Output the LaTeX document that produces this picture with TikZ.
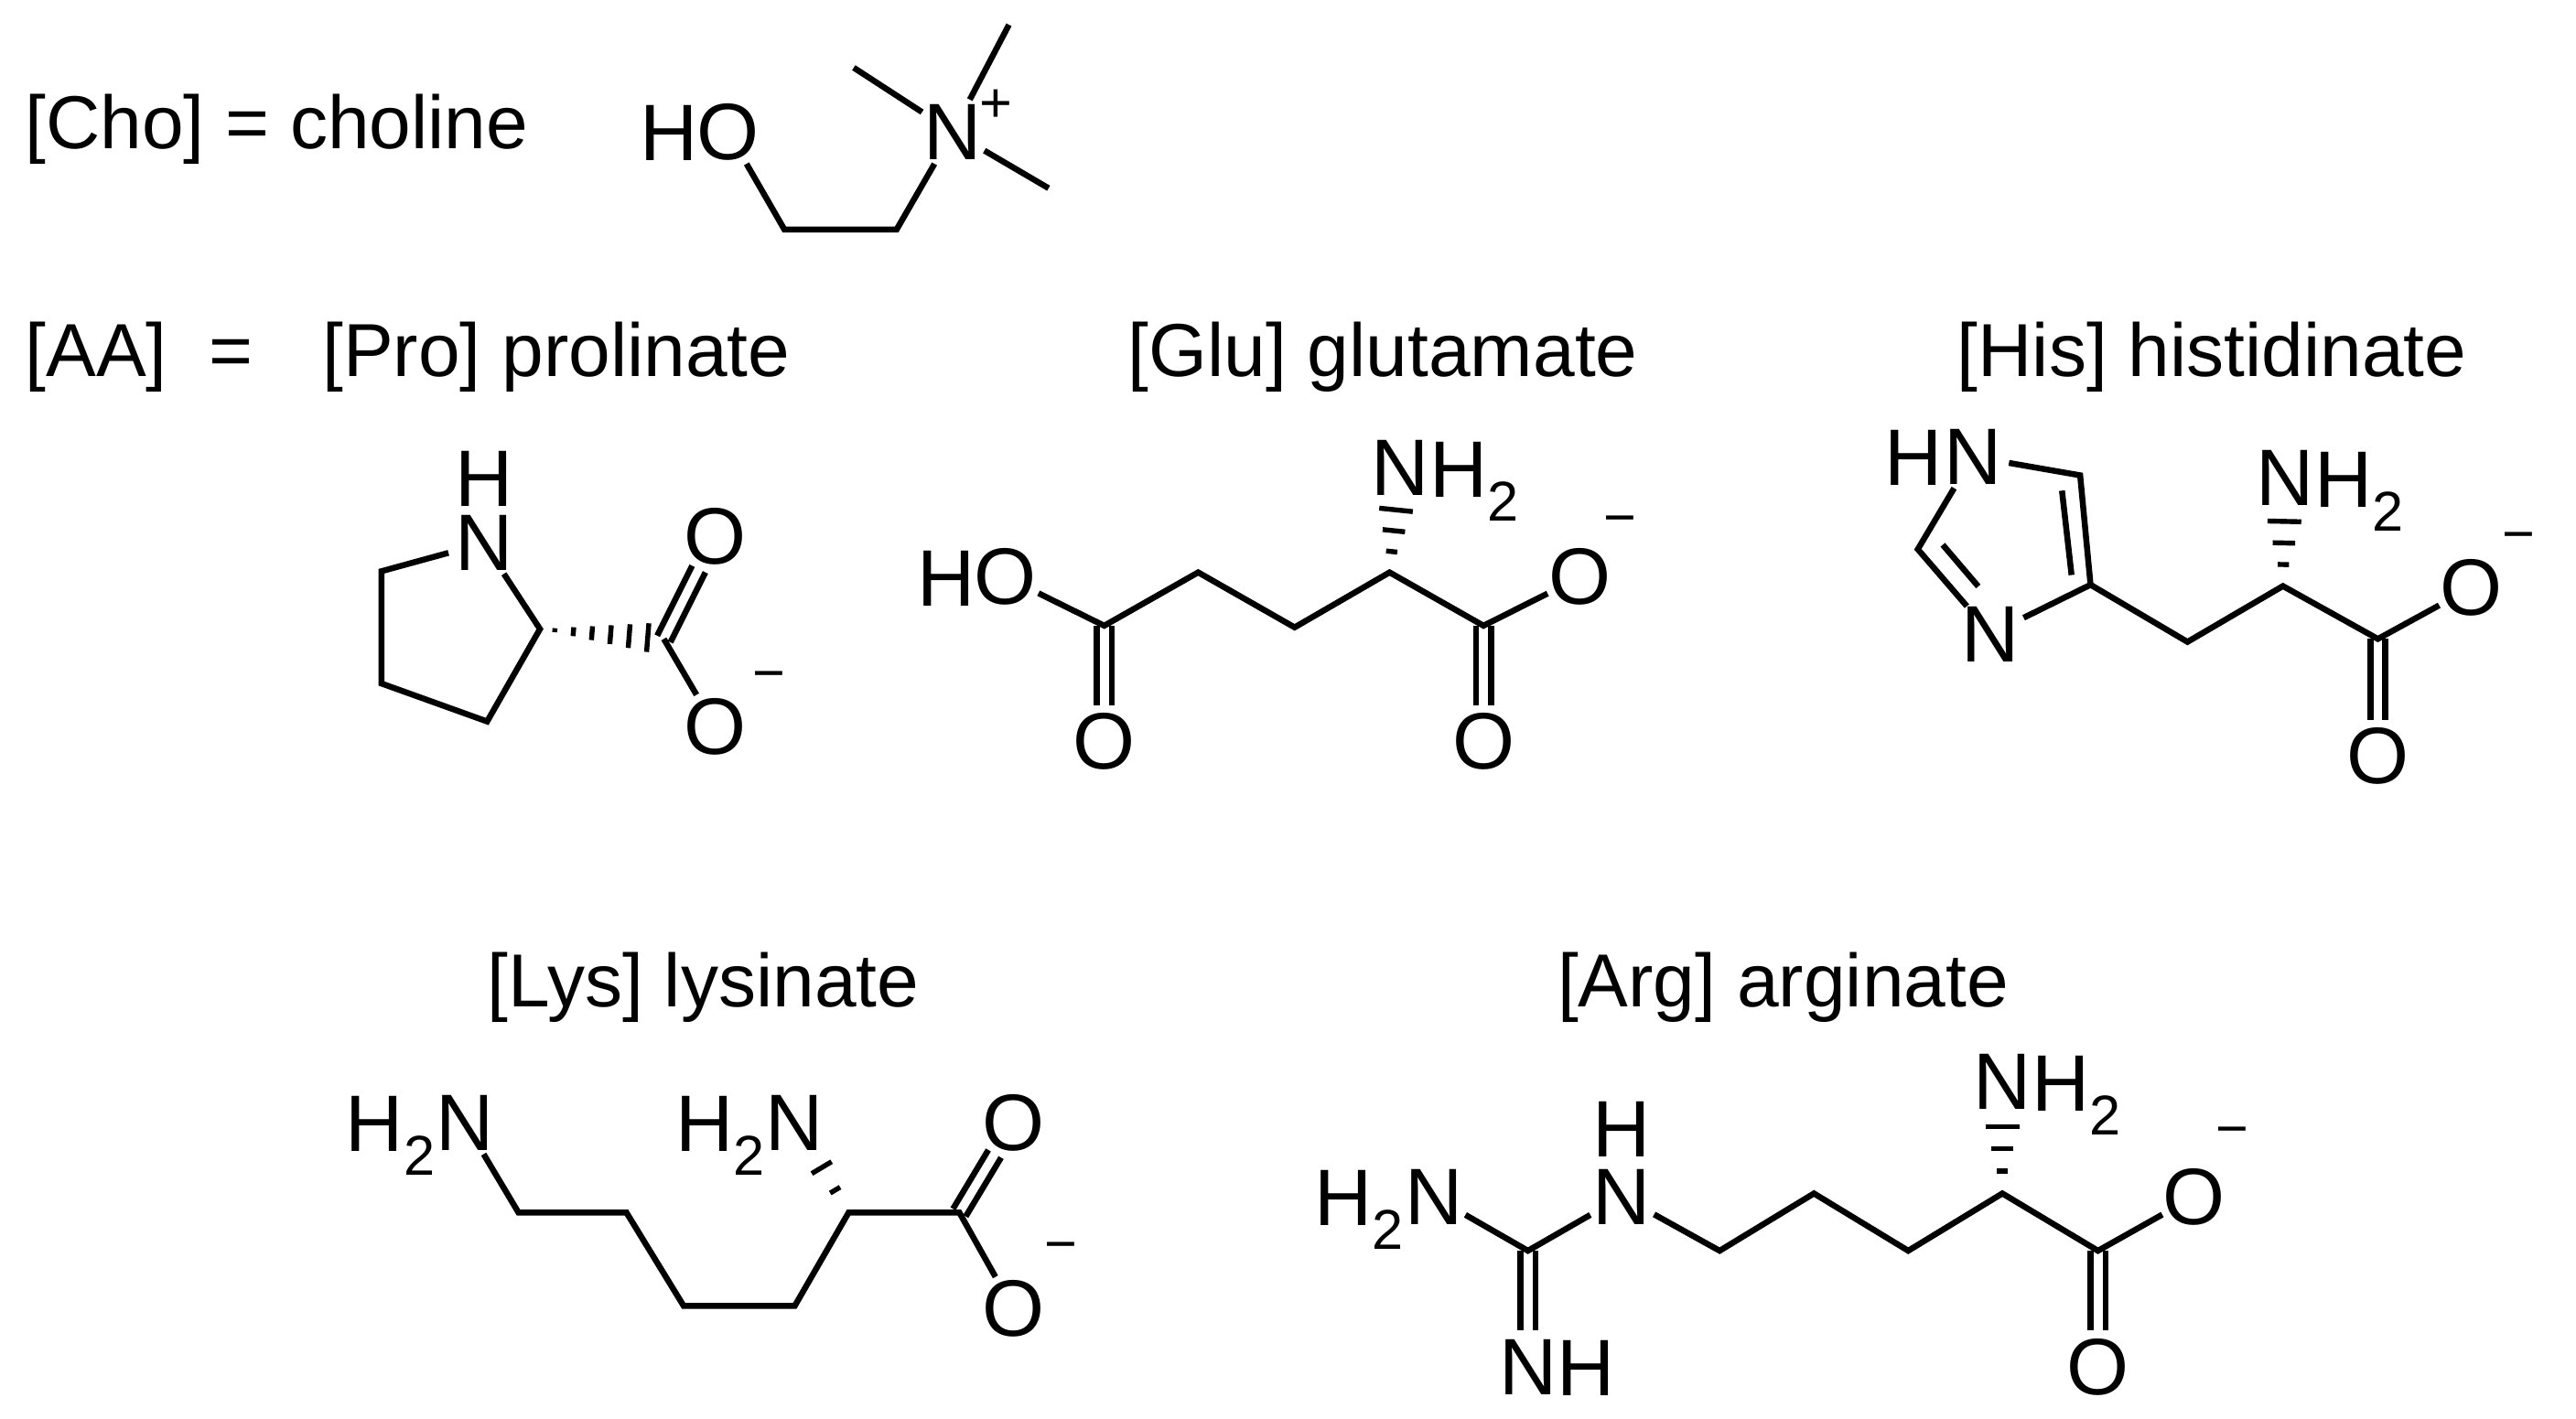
\documentclass[tikz,border=0pt]{standalone}
\usepackage{fontspec}
\setmainfont{Liberation Sans}
\usetikzlibrary{calc}
\newcommand\bigf{\fontsize{48.5pt}{58pt}\selectfont}
\newcommand\titf{\fontsize{45.5pt}{54pt}\selectfont}
\newcommand\smf{\fontsize{34pt}{36pt}\selectfont}
\newcommand\sub[1]{\raisebox{-0.3em}{\smf #1}}
\tikzset{
  x=1pt,y=-1pt,
  every node/.style={font=\bigf},
  atom/.style={circle,inner sep=0pt,minimum size=44pt},
  bond/.style={line width=3.6pt,line join=miter},
  hashline/.style={line width=3pt},
  txt/.style={anchor=base west,inner sep=0pt,font=\titf},
  chg/.style={inner sep=0pt,font=\smf},
}
\newcommand\At[3]{\node[atom] (#1) at (#2) {\makebox[0pt]{#3}};}
\newcommand\Hr[2]{\node[anchor=base west,inner sep=0pt] (#1h) at ([xshift=17.5pt,yshift=-17.5pt]#1.center) {#2};}
\newcommand\Hl[2]{\node[anchor=base east,inner sep=0pt] (#1h) at ([xshift=-18pt,yshift=-17.5pt]#1.center) {#2};}
\newcommand\hashb[4]{\foreach \t in {#3}{\pgfmathsetmacro\hw{#4*\t}\path ($(#1)!\t!(#2)$) coordinate (hp); \draw[hashline] ($(hp)!\hw pt!90:(#2)$) -- ($(hp)!\hw pt!-90:(#2)$);}}
\newcommand\dblo[2]{\path ($(#2)!22pt!(#1)$) coordinate (de); \draw[bond] ($(#1)!4.5pt!90:(de)$) -- ($(de)!4.5pt!-90:(#1)$); \draw[bond] ($(#1)!4.5pt!-90:(de)$) -- ($(de)!4.5pt!90:(#1)$);}
\begin{document}
\begin{tikzpicture}
\useasboundingbox (0,0) rectangle (1560,859);
% titles
\node[txt] (t1) at (15,90) {[Cho] = choline};
\node[txt] (t2) at (15,228) {[AA]\ \ =};
\node[txt] (t3) at (195,228) {[Pro] prolinate};
\node[txt] (t4) at (683,228) {[Glu] glutamate};
\node[txt] (t5) at (1185,228) {[His] histidinate};
\node[txt] (t6) at (295,610) {[Lys] lysinate};
\node[txt] (t7) at (943,610) {[Arg] arginate};
% ---- choline
\At{chO}{441,80}{O}\Hl{chO}{H}
\At{chN}{577,80}{N}
\node[chg] (chp) at (603,64) {+};
\coordinate (ch1) at (475,139); \coordinate (ch2) at (543,139);
\coordinate (m1) at (517,41); \coordinate (m2) at (611,15); \coordinate (m3) at (635,114);
\draw[bond] (chO) -- (ch1) -- (ch2) -- (chN);
\draw[bond] (chN) -- (m1); \draw[bond] (chN) -- (m2); \draw[bond] (chN) -- (m3);
% ---- proline
\At{pN}{293,329}{N}
\node[inner sep=0pt] (pH) at (293,290) {H};
\coordinate (p1) at (231,346); \coordinate (p2) at (231,414); \coordinate (p3) at (295,437);
\coordinate (pa) at (327,381); \coordinate (pc) at (402,387);
\At{pO1}{433,325}{O}\At{pO2}{433,440}{O}
\node[chg] (pm) at (466,413) {−};
\draw[bond] (pN) -- (p1) -- (p2) -- (p3) -- (pa) -- (pN);
\hashb{pa}{pc}{0.12,0.27,0.42,0.57,0.72,0.87}{10}
\draw[bond] (pc) -- (pO2);
\dblo{pc}{pO1}
% ---- glutamate
\At{gO}{609,349.5}{O}\Hl{gO}{H}
\coordinate (g1) at (668.7,379); \coordinate (g2) at (725.6,346.7); \coordinate (g3) at (784,380);
\coordinate (ga) at (841.5,346.7); \coordinate (gc) at (898.4,379);
\At{gOm}{957,349.5}{O}\node[chg] (gm) at (981,319) {−};
\At{gO2}{668.7,449}{O}\At{gO3}{898.4,449}{O}
\At{gN}{848,283.6}{N}\Hr{gN}{H\sub2}
\draw[bond] (gO) -- (g1) -- (g2) -- (g3) -- (ga) -- (gc) -- (gOm);
\dblo{g1}{gO2}\dblo{gc}{gO3}
\hashb{ga}{gN}{0.2,0.4,0.6}{17}
% ---- histidine
\At{hN1}{1194.7,276.6}{N}\Hl{hN1}{H}
\coordinate (h5) at (1259.7,287.9); \coordinate (h4) at (1266,354.2);
\At{hN3}{1205.6,384}{N}
\coordinate (h2) at (1161.4,332.7);
\coordinate (hb) at (1324.7,388.8); \coordinate (ha) at (1382.5,355); \coordinate (hc) at (1440,387);
\At{hOm}{1496.6,356}{O}\node[chg] (hm) at (1525.5,329) {−};
\At{hO2}{1440,458}{O}
\At{hN}{1384,289.7}{N}\Hr{hN}{H\sub2}
\draw[bond] (hN1) -- (h5) -- (h4) -- (hN3) -- (h2) -- (hN1);
\draw[bond] (1248.7,297.2) -- (1254.5,348.3);
\draw[bond] (1176.5,330) -- (1198,355.2);
\draw[bond] (h4) -- (hb) -- (ha) -- (hc) -- (hOm);
\dblo{hc}{hO2}
\hashb{ha}{hN}{0.2,0.4,0.6}{17}
% ---- lysine
\At{lN1}{281.5,680}{N}\Hl{lN1}{H\sub2}
\coordinate (l1) at (314,734.5); \coordinate (l2) at (379.4,734.5); \coordinate (l3) at (414,791);
\coordinate (l4) at (481.3,791); \coordinate (la) at (513.9,734.5); \coordinate (lc) at (581,734.5);
\At{lO1}{613.7,680}{O}\At{lO2}{613.7,792.8}{O}
\node[chg] (lm) at (642.3,759) {−};
\At{lN2}{481.3,680}{N}\Hl{lN2}{H\sub2}
\draw[bond] (lN1) -- (l1) -- (l2) -- (l3) -- (l4) -- (la) -- (lc) -- (lO2);
\dblo{lc}{lO1}
\hashb{la}{lN2}{0.25,0.5}{14}
% ---- arginine
\At{aN1}{868.2,724.8}{N}\Hl{aN1}{H\sub2}
\At{aN2}{982.3,724.8}{N}
\node[inner sep=0pt] (aH) at (982.3,684) {H};
\coordinate (ag) at (925.3,757.6);
\At{aN3}{925.3,828}{N}\Hr{aN3}{H}
\coordinate (a1) at (1041.4,757.6); \coordinate (a2) at (1098.5,722.9); \coordinate (a3) at (1155.6,757.6);
\coordinate (aa) at (1212.6,722.9); \coordinate (ac) at (1270.5,757.6);
\At{aOm}{1328.8,724.8}{O}\node[chg] (am) at (1352,689) {−};
\At{aO2}{1270.5,828}{O}
\At{aN}{1212.6,655.4}{N}\Hr{aN}{H\sub2}
\draw[bond] (aN1) -- (ag) -- (aN2);
\dblo{ag}{aN3}
\draw[bond] (aN2) -- (a1) -- (a2) -- (a3) -- (aa) -- (ac) -- (aOm);
\dblo{ac}{aO2}
\hashb{aa}{aN}{0.2,0.4,0.6}{17}
\end{tikzpicture}
\end{document}
